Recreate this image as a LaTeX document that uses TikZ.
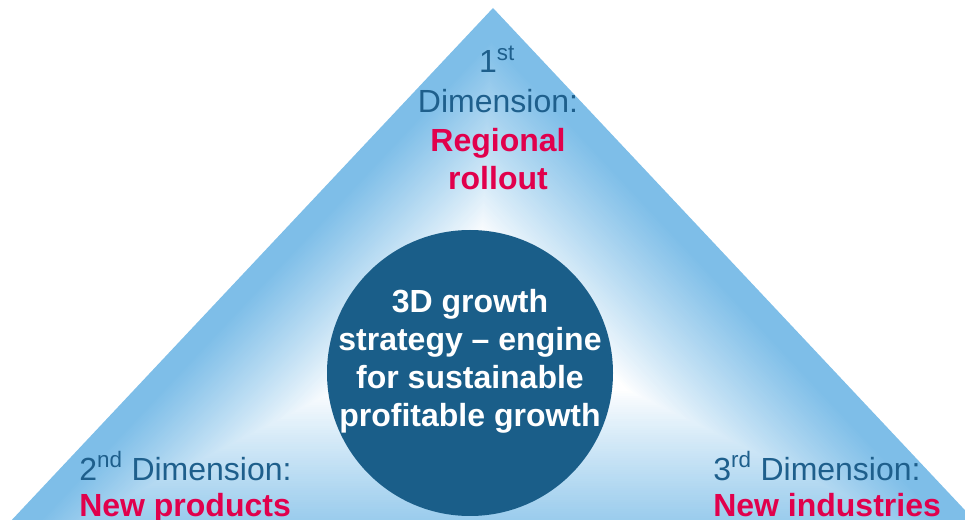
\documentclass[tikz,border=0pt]{standalone}
\usepackage{fontspec}
\setmainfont{Liberation Sans}
\usetikzlibrary{calc}
\definecolor{triblue}{RGB}{126,190,232}
\definecolor{coreblue}{RGB}{26,94,137}
\definecolor{dimtext}{RGB}{30,95,140}
\definecolor{hotred}{RGB}{225,0,76}
\tikzset{
  dimlabel/.style={font=\fontsize{24}{29}\selectfont, text=dimtext, inner sep=0pt},
  keylabel/.style={font=\fontsize{24}{29}\selectfont\bfseries, text=hotred, inner sep=0pt},
  corelabel/.style={font=\fontsize{24}{29}\selectfont\bfseries, text=white, inner sep=0pt, anchor=base},
}
\begin{document}
\begin{tikzpicture}[x=0.75pt,y=-0.75pt]
\useasboundingbox (0,0) rectangle (965,520);
\coordinate (A) at (493,8);
\coordinate (L) at (-54,590);
\coordinate (R) at (1040,590);
\coordinate (C) at (478,318);
\begin{scope}
\clip (0,0) rectangle (965,520);
\foreach \i in {0,...,90} {
  \pgfmathsetmacro\s{1-0.0085*\i}
  \pgfmathsetmacro\t{max(0.0001,min(1,(\s-0.27)/0.63))}
  \pgfmathsetmacro\p{100*\t^0.9}
  \fill[triblue!\p!white] ($(C)!\s!(A)$) -- ($(C)!\s!(L)$) -- ($(C)!\s!(R)$) -- cycle;
}
\end{scope}
\node[circle, fill=coreblue, minimum size=286*0.75pt, inner sep=0pt] (core) at (470,373) {};
\node[corelabel] (c1) at (470,313) {3D growth};
\node[corelabel] (c2) at (470,351) {strategy – engine};
\node[corelabel] (c3) at (470,389) {for sustainable};
\node[corelabel] (c4) at (470,427) {profitable growth};
% top
\node[dimlabel, anchor=base] (t1) at (497,73) {1\textsuperscript{st}};
\node[dimlabel, anchor=base] (t2) at (498,113) {Dimension:};
\node[keylabel, anchor=base] (t3) at (498,152) {Regional};
\node[keylabel, anchor=base] (t4) at (498,190) {rollout};
% bottom left
\node[dimlabel, anchor=base west] (l1) at (79,480) {2\textsuperscript{nd} Dimension:};
\node[keylabel, anchor=base west] (l2) at (79,517) {New products};
% bottom right
\node[dimlabel, anchor=base west] (r1) at (713,480) {3\textsuperscript{rd} Dimension:};
\node[keylabel, anchor=base west] (r2) at (713,517) {New industries};
\end{tikzpicture}
\end{document}
